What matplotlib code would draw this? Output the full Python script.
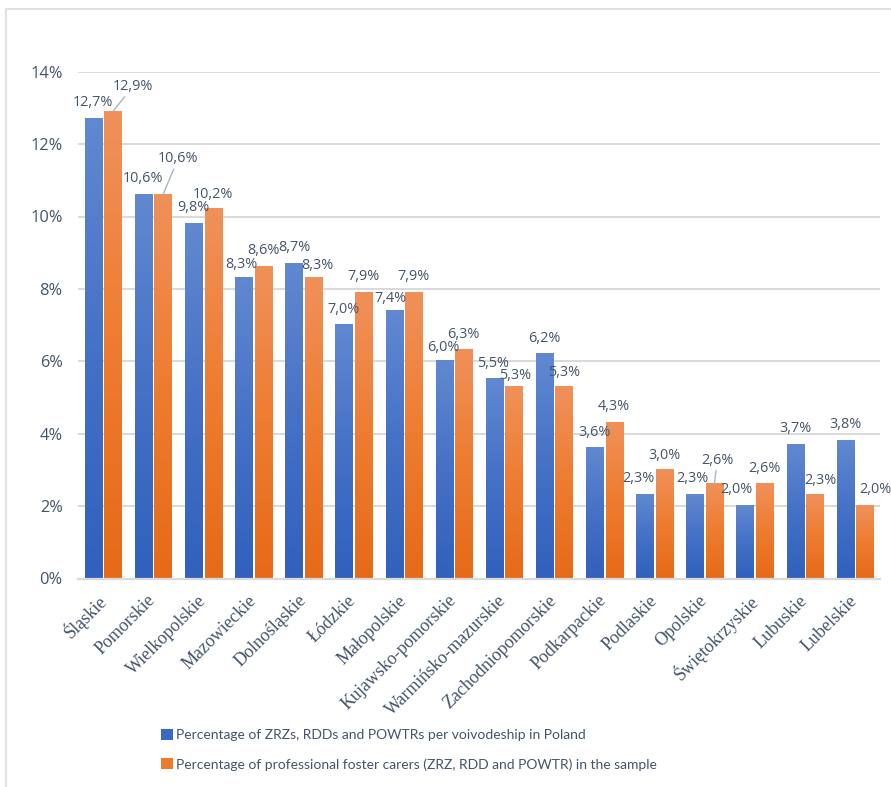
import numpy as np
import matplotlib
matplotlib.use("Agg")
import matplotlib.pyplot as plt
from matplotlib.colors import LinearSegmentedColormap
from matplotlib.patches import Patch
from matplotlib.lines import Line2D

# ---- data -------------------------------------------------------------
regions = ["Śląskie", "Pomorskie", "Wielkopolskie", "Mazowieckie", "Dolnośląskie",
           "Łódzkie", "Małopolskie", "Kujawsko-pomorskie", "Warmińsko-mazurskie",
           "Zachodniopomorskie", "Podkarpackie", "Podlaskie", "Opolskie",
           "Świętokrzyskie", "Lubuskie", "Lubelskie"]
share_poland = [12.7, 10.6, 9.8, 8.3, 8.7, 7.0, 7.4, 6.0, 5.5, 6.2, 3.6, 2.3, 2.3, 2.0, 3.7, 3.8]
share_sample = [12.9, 10.6, 10.2, 8.6, 8.3, 7.9, 7.9, 6.3, 5.3, 5.3, 4.3, 3.0, 2.6, 2.6, 2.3, 2.0]
y_ticks = [0, 2, 4, 6, 8, 10, 12, 14]
series_names = ["Percentage of ZRZs, RDDs and POWTRs per voivodeship in Poland",
                "Percentage of professional foster carers (ZRZ, RDD and POWTR) in the sample"]

# ---- style ------------------------------------------------------------
TEXT = "#44546A"
GRID = "#D9D9D9"
blue_cmap = LinearSegmentedColormap.from_list("b", ["#3161BD", "#4571C6", "#6189D1"])
orange_cmap = LinearSegmentedColormap.from_list("o", ["#E66A18", "#EE7C30", "#F0915A"])
LABEL_FONT = ["Open Sans", "DejaVu Sans"]
LEGEND_FONT = ["Lato", "DejaVu Sans"]

# label nudges in pixels (dx, dy above bar top); a third True item draws a connector
default_off = (0, 16)
blue_off = {3: (-2, 14), 4: (1, 16), 6: (-4, 12), 7: (-1, 14), 8: (-1, 16), 11: (-6, 17),
            12: (-2, 17), 13: (-9, 17)}
orange_off = {0: (20, 25, True), 1: (15, 36, True), 2: (0, 15), 3: (0, 17), 4: (4, 13),
              8: (1, 11), 9: (0, 14), 11: (0, 14), 12: (3, 24, True),
              14: (6, 15), 15: (11, 17)}

fig = plt.figure(figsize=(8.91, 7.87), dpi=100)
ax = fig.add_axes([78 / 891, 208.5 / 787, 802 / 891, 506.8 / 787])

x = np.arange(len(regions))
bw = 0.34
off = 0.195
bars_b = ax.bar(x - off, share_poland, bw, facecolor="none", edgecolor="none", zorder=2)
bars_o = ax.bar(x + off, share_sample, bw, facecolor="none", edgecolor="none", zorder=2)

# vertical gradient fill inside each bar
grad = np.linspace(0, 1, 256).reshape(-1, 1)
for bars, cmap in ((bars_b, blue_cmap), (bars_o, orange_cmap)):
    for p in bars:
        x0, y0, w, h = p.get_x(), p.get_y(), p.get_width(), p.get_height()
        ax.imshow(grad, cmap=cmap, origin="lower", aspect="auto",
                  extent=[x0, x0 + w, y0, y0 + h], zorder=2, interpolation="bilinear")


def fmt(v):
    return f"{v:.1f}%".replace(".", ",")


def put_label(px, v, spec):
    dx, dy = spec[0], spec[1]
    leader = len(spec) > 2 and spec[2]
    kw = {}
    if leader:
        kw["arrowprops"] = dict(arrowstyle="-", color="#A6B4C8", lw=1.0,
                                shrinkA=0, shrinkB=0)
    ax.annotate(fmt(v), xy=(px, v), xytext=(dx, dy), textcoords="offset pixels",
                ha="center", va="center", fontsize=10.4, color=TEXT,
                family=LABEL_FONT, zorder=4, **kw)


for i, p in enumerate(bars_b):
    put_label(p.get_x() + p.get_width() / 2, share_poland[i], blue_off.get(i, default_off))
for i, p in enumerate(bars_o):
    put_label(p.get_x() + p.get_width() / 2, share_sample[i], orange_off.get(i, default_off))

ax.set_xlim(-0.5, len(regions) - 0.5)
ax.set_ylim(0, 14)
ax.set_yticks(y_ticks)
ax.set_yticklabels([f"{t}%" for t in y_ticks], family=LABEL_FONT, fontsize=11.8, color=TEXT)
ax.tick_params(axis="y", length=0, pad=11)
ax.set_xticks(x)
ax.set_xticklabels(regions, rotation=45, ha="right", va="center", rotation_mode="anchor",
                   family="Liberation Serif", fontsize=13, color=TEXT)
ax.tick_params(axis="x", length=0, pad=14)

ax.yaxis.grid(True, color=GRID, lw=1.4)
ax.set_axisbelow(True)
for s in ("top", "right", "left"):
    ax.spines[s].set_visible(False)
ax.spines["bottom"].set_color(GRID)
ax.spines["bottom"].set_linewidth(1.6)
ax.spines["bottom"].set_zorder(3)

handles = [Patch(facecolor="#3A68C2", edgecolor="none"),
           Patch(facecolor="#EE7A2C", edgecolor="none")]
fig.legend(handles, series_names, loc="upper left", bbox_to_anchor=(161 / 891, 1 - 729 / 787),
           frameon=False, handlelength=0.85, handleheight=0.85, handletextpad=0.2,
           labelspacing=1.2, prop={"family": LEGEND_FONT, "size": 10},
           labelcolor=TEXT, borderaxespad=0, borderpad=0)

# outer chart frame (top and left edges)
fig.add_artist(Line2D([5.5 / 891, 5.5 / 891], [0, 1 - 9 / 787], transform=fig.transFigure,
                      color="#DDE2E8", lw=1.5))
fig.add_artist(Line2D([5.5 / 891, 1], [1 - 9 / 787, 1 - 9 / 787], transform=fig.transFigure,
                      color="#DDE2E8", lw=1.5))

fig.savefig("out.png", dpi=100)
